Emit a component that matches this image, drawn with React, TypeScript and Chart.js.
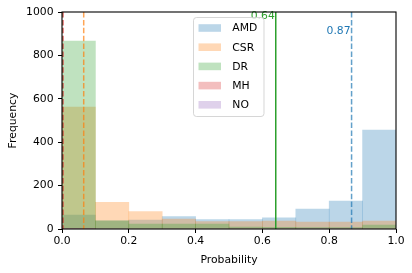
import React, { useEffect, useRef } from "react";
import { Chart, registerables } from "chart.js";

Chart.register(...registerables);

const binCenters = [0.05, 0.15, 0.25, 0.35, 0.45, 0.55, 0.65, 0.75, 0.85, 0.95];
const seriesNames = ["AMD", "CSR", "DR", "MH", "NO"];
const amd = [64, 38, 41, 57, 43, 43, 51, 92, 129, 456];
const csr = [562, 123, 80, 46, 34, 34, 37, 32, 32, 37];
const dr = [866, 38, 23, 23, 23, 9, 8, 6, 6, 18];
const mh = [2, 0, 0, 0, 0, 0, 0, 0, 0, 0];
const no = [1, 0, 0, 0, 0, 0, 0, 0, 0, 0];
const baseColors = ["31,119,180", "255,127,14", "44,160,44", "214,39,40", "148,103,189"];
const meanLines: (number | null)[] = [0.867, 0.065, 0.0, 0.003, null];
const threshold = 0.64;
const thresholdLabel = "0.64";
const amdMeanLabel = "0.87";
const xTicks = [0, 0.2, 0.4, 0.6, 0.8, 1.0];
const yTicks = [0, 200, 400, 600, 800, 1000];

const FONT = "DejaVu Sans";
const FS = 10.8;

export default function App() {
  const ref = useRef<HTMLCanvasElement | null>(null);
  useEffect(() => {
    document.body.style.margin = "0";
    const canvas = ref.current!;
    const allSeries = [amd, csr, dr, mh, no];
    const datasets = allSeries.map((vals, i) => ({
      label: seriesNames[i],
      data: vals.map((v, j) => ({ x: binCenters[j], y: v })),
      backgroundColor: `rgba(${baseColors[i]},0.3)`,
      borderWidth: 0,
      barPercentage: 1,
      categoryPercentage: 1,
      grouped: false,
      order: allSeries.length - i,
    }));

    const overlay = {
      id: "overlay",
      afterDatasetsDraw(chart: any) {
        const ctx = chart.ctx;
        const xs = chart.scales.x;
        const ys = chart.scales.y;
        const a = chart.chartArea;
        ctx.save();
        ctx.beginPath();
        ctx.rect(a.left, a.top, a.right - a.left, a.bottom - a.top);
        ctx.clip();
        meanLines.forEach((m, i) => {
          if (m === null) return;
          const px = xs.getPixelForValue(m);
          ctx.strokeStyle = `rgba(${baseColors[i]},0.7)`;
          ctx.lineWidth = 1.5;
          ctx.setLineDash([5.5, 2.4]);
          ctx.beginPath();
          ctx.moveTo(px, a.top);
          ctx.lineTo(px, a.bottom);
          ctx.stroke();
        });
        ctx.setLineDash([]);
        const tx = xs.getPixelForValue(threshold);
        ctx.strokeStyle = "rgb(44,160,44)";
        ctx.lineWidth = 1.5;
        ctx.beginPath();
        ctx.moveTo(tx, a.top);
        ctx.lineTo(tx, a.bottom);
        ctx.stroke();
        ctx.restore();

        ctx.save();
        ctx.font = `${FS}px '${FONT}'`;
        ctx.textAlign = "right";
        ctx.textBaseline = "middle";
        ctx.fillStyle = "rgb(44,160,44)";
        ctx.fillText(thresholdLabel, tx - 1, ys.getPixelForValue(980));
        ctx.fillStyle = "rgb(31,119,180)";
        ctx.fillText(amdMeanLabel, xs.getPixelForValue(meanLines[0] as number) - 1, ys.getPixelForValue(912));
        ctx.restore();

        ctx.save();
        ctx.strokeStyle = "#000";
        ctx.lineWidth = 1.1;
        ctx.strokeRect(a.left, a.top, a.right - a.left, a.bottom - a.top);
        ctx.restore();
      },
      afterDraw(chart: any) {
        const ctx = chart.ctx;
        const a = chart.chartArea;
        ctx.save();
        ctx.font = `${FS}px '${FONT}'`;
        ctx.fillStyle = "#000";
        ctx.textAlign = "center";
        ctx.textBaseline = "middle";
        ctx.fillText("Probability", (a.left + a.right) / 2, 260);
        ctx.save();
        ctx.translate(13, (a.top + a.bottom) / 2);
        ctx.rotate(-Math.PI / 2);
        ctx.fillText("Frequency", 0, 0);
        ctx.restore();

        const lx = 193.5, ly = 17.5, lw = 70.5, lh = 99;
        const r = 3;
        ctx.beginPath();
        ctx.moveTo(lx + r, ly);
        ctx.lineTo(lx + lw - r, ly);
        ctx.quadraticCurveTo(lx + lw, ly, lx + lw, ly + r);
        ctx.lineTo(lx + lw, ly + lh - r);
        ctx.quadraticCurveTo(lx + lw, ly + lh, lx + lw - r, ly + lh);
        ctx.lineTo(lx + r, ly + lh);
        ctx.quadraticCurveTo(lx, ly + lh, lx, ly + lh - r);
        ctx.lineTo(lx, ly + r);
        ctx.quadraticCurveTo(lx, ly, lx + r, ly);
        ctx.closePath();
        ctx.fillStyle = "rgba(255,255,255,0.8)";
        ctx.fill();
        ctx.strokeStyle = "rgba(204,204,204,0.8)";
        ctx.lineWidth = 1;
        ctx.stroke();
        ctx.textAlign = "left";
        seriesNames.forEach((name, i) => {
          const cy = 28 + i * 19.2;
          ctx.fillStyle = `rgba(${baseColors[i]},0.3)`;
          ctx.fillRect(198.5, cy - 3.8, 22.5, 7.6);
          ctx.fillStyle = "#000";
          ctx.fillText(name, 232.3, cy + 0.5);
        });
        ctx.restore();
      },
    };

    const chart = new Chart(canvas, {
      type: "bar",
      data: { datasets } as any,
      options: {
        animation: false,
        responsive: false,
        maintainAspectRatio: false,
        devicePixelRatio: 1,
        layout: { padding: { top: 12, right: 16, left: 0, bottom: 0 } },
        plugins: { legend: { display: false }, tooltip: { enabled: false } },
        scales: {
          x: {
            type: "linear",
            min: 0,
            max: 1,
            offset: false,
            afterBuildTicks: (s: any) => {
              s.ticks = xTicks.map((v) => ({ value: v }));
            },
            afterFit: (s: any) => {
              s.height = 44;
            },
            ticks: {
              callback: (v: any) => Number(v).toFixed(1),
              color: "#000",
              font: { family: FONT, size: FS },
              padding: 2,
              maxRotation: 0,
              autoSkip: false,
            },
            grid: { drawOnChartArea: false, drawTicks: true, tickLength: 4, color: "#000", offset: false },
            border: { display: false },
          },
          y: {
            type: "linear",
            min: 0,
            max: 1000,
            afterBuildTicks: (s: any) => {
              s.ticks = yTicks.map((v) => ({ value: v }));
            },
            afterFit: (s: any) => {
              s.width = 62;
            },
            ticks: {
              callback: (v: any) => String(v),
              color: "#000",
              font: { family: FONT, size: FS },
              padding: 4.5,
              autoSkip: false,
            },
            grid: { drawOnChartArea: false, drawTicks: true, tickLength: 4, color: "#000" },
            border: { display: false },
          },
        },
      } as any,
      plugins: [overlay],
    });
    return () => chart.destroy();
  }, []);
  return (
    <div style={{ width: 412, height: 273 }}>
      <canvas ref={ref} width={412} height={273} style={{ display: "block", width: 412, height: 273 }} />
    </div>
  );
}
